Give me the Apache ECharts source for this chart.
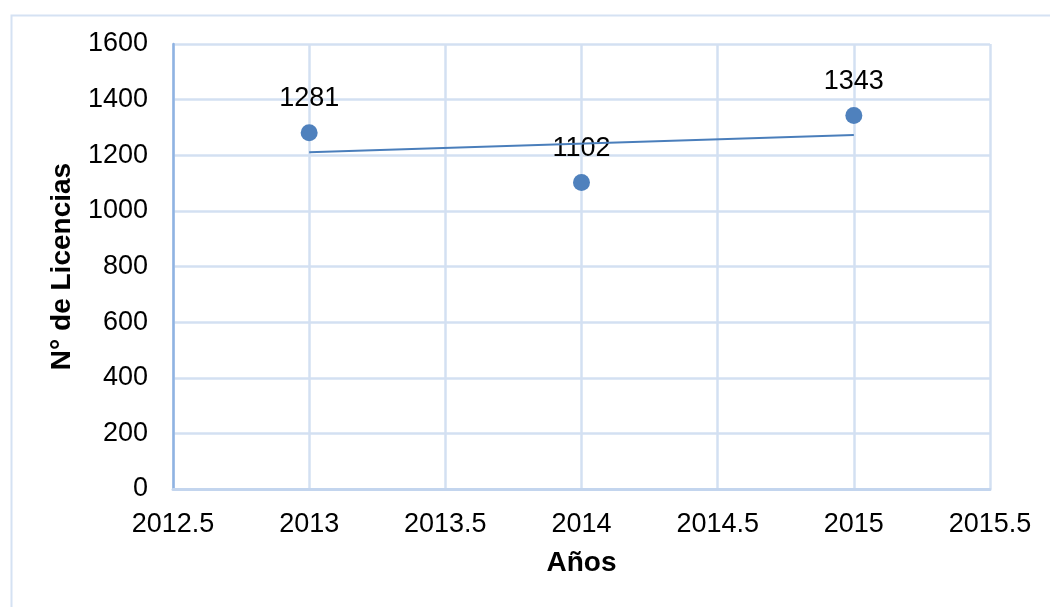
<!DOCTYPE html>
<html>
<head>
<meta charset="utf-8">
<script src="https://cdn.jsdelivr.net/npm/echarts@6/dist/echarts.min.js"></script>
<style>html,body{margin:0;padding:0;background:#fff;}#c{width:1050px;height:607px;}</style>
</head>
<body>
<div id="c"></div>
<script>
const years = [2013, 2014, 2015];
const licencias = [1281, 1102, 1343];
const trendYears = [2013, 2015];
const trendValues = [1211, 1273];

const chart = echarts.init(document.getElementById('c'), null, {renderer: 'canvas'});
const font = "'Liberation Sans', Arial, sans-serif";
chart.setOption({
  animation: false,
  backgroundColor: '#ffffff',
  graphic: [{
    type: 'rect', left: 9, top: 13, z: -10,
    shape: {x: 0, y: 0, width: 1100, height: 700},
    style: {fill: 'none', stroke: '#d5e2f3', lineWidth: 2}
  }],
  grid: {left: 173, top: 44, width: 817, height: 445},
  xAxis: {
    type: 'value', min: 2012.5, max: 2015.5, interval: 0.5,
    name: 'Años', nameLocation: 'middle', nameGap: 60,
    nameTextStyle: {fontFamily: font, fontSize: 28, fontWeight: 'bold', color: '#000'},
    axisLine: {show: true, lineStyle: {color: '#c3d5ee', width: 3}},
    axisTick: {show: false},
    axisLabel: {fontFamily: font, fontSize: 27, color: '#000', margin: 22,
      formatter: v => String(v)},
    splitLine: {show: true, lineStyle: {color: '#d3e0f2', width: 2.5}}
  },
  yAxis: {
    type: 'value', min: 0, max: 1600, interval: 200,
    name: 'N° de Licencias', nameLocation: 'middle', nameGap: 97, nameRotate: 90,
    nameTextStyle: {fontFamily: font, fontSize: 28, fontWeight: 'bold', color: '#000'},
    axisLine: {show: true, onZero: false, lineStyle: {color: '#8fb3e2', width: 2.5}},
    axisTick: {show: false},
    axisLabel: {fontFamily: font, fontSize: 27, color: '#000', margin: 25,
      formatter: v => String(v)},
    splitLine: {show: true, lineStyle: {color: '#d3e0f2', width: 2.5}}
  },
  series: [
    {
      type: 'line', data: trendYears.map((x, i) => [x, trendValues[i]]),
      symbol: 'none', lineStyle: {color: '#4a7ebb', width: 2}, z: 3, silent: true
    },
    {
      type: 'scatter', data: years.map((x, i) => [x, licencias[i]]),
      symbolSize: 17, itemStyle: {color: '#4f81bd', opacity: 1}, z: 2,
      label: {show: true, position: 'top', distance: 12,
        formatter: p => String(p.value[1]),
        fontFamily: font, fontSize: 27, color: '#000'}
    }
  ]
});
</script>
</body>
</html>
